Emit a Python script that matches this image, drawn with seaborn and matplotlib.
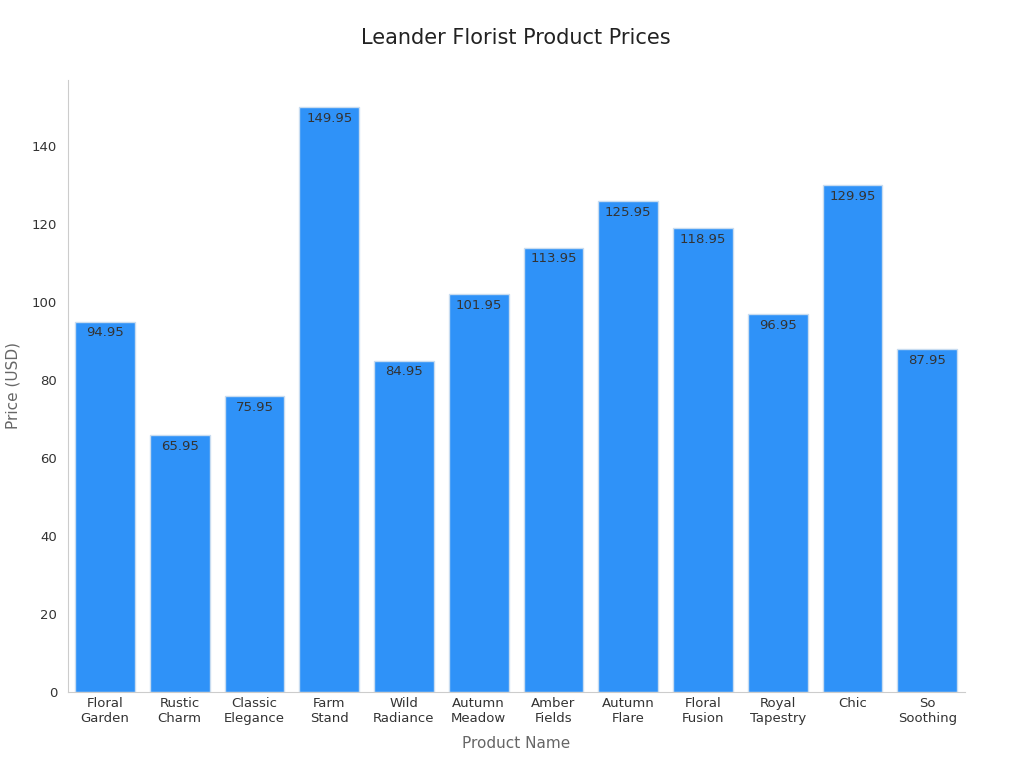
import seaborn as sns
import pandas as pd
import matplotlib
matplotlib.use('Agg')
import matplotlib.pyplot as plt

products = ['Floral\nGarden', 'Rustic\nCharm', 'Classic\nElegance', 'Farm\nStand',
            'Wild\nRadiance', 'Autumn\nMeadow', 'Amber\nFields', 'Autumn\nFlare',
            'Floral\nFusion', 'Royal\nTapestry', 'Chic', 'So\nSoothing']
prices = [94.95, 65.95, 75.95, 149.95, 84.95, 101.95, 113.95, 125.95,
          118.95, 96.95, 129.95, 87.95]

df = pd.DataFrame({'product': products, 'price': prices})

sns.set_style('white')
fig, ax = plt.subplots(figsize=(10.24, 7.68), dpi=100)
fig.subplots_adjust(left=0.066, right=0.942, top=0.896, bottom=0.099)

sns.barplot(data=df, x='product', y='price', color='#2F92F8', saturation=1,
            edgecolor='#c8dcf0', linewidth=1, width=0.8, ax=ax)

for p, v in zip(ax.patches, prices):
    ax.text(p.get_x() + p.get_width() / 2, v - 1.2, f'{v:.2f}',
            ha='center', va='top', fontsize=9.5, color='#333333')

ax.set_ylim(0, 157)
ax.set_xlim(-0.5, 11.5)
ax.set_title('Leander Florist Product Prices', fontsize=15, color='#222222', pad=26)
ax.set_xlabel('Product Name', fontsize=11, color='#666666', labelpad=8)
ax.set_ylabel('Price (USD)', fontsize=11, color='#666666', labelpad=8)
ax.tick_params(axis='both', labelsize=9.5, colors='#333333', length=4, color='#999999')
ax.tick_params(axis='x', length=0)
sns.despine(ax=ax)
for s in ['left', 'bottom']:
    ax.spines[s].set_color('#cccccc')

fig.savefig('out.png', dpi=100)
